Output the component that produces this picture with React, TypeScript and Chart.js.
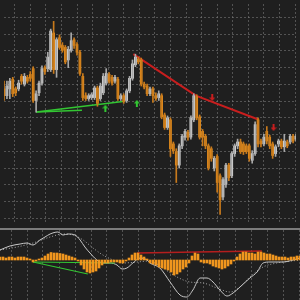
import React, { useEffect, useRef } from 'react';
import { Chart, registerables } from 'chart.js';
Chart.register(...registerables);

// ---- price candles (index 0..100) ----
const open = [140,133,140,150,140,140,153,145,152,155,161,128,136,146,162,161,160,198,160,193,185,183,170,180,191,186,178,153,133,130,131,131,141,130,136,146,155,152,148,150,130,133,128,138,151,165,171,170,145,143,135,140,133,131,133,113,100,108,83,75,61,81,90,95,90,108,132,111,96,91,81,78,58,70,50,28,41,61,50,73,81,85,83,81,81,66,73,108,86,83,96,90,83,73,83,86,80,85,85,91,88];
const close = [133,143,148,135,136,146,148,153,148,151,128,135,146,161,158,173,200,160,191,183,180,168,181,190,185,178,156,131,130,133,134,141,125,143,153,156,148,146,152,130,133,127,138,151,166,173,168,145,142,135,140,133,130,135,111,100,110,78,76,61,81,91,96,90,110,133,110,90,90,81,58,68,68,43,25,46,61,48,73,81,85,75,75,75,68,73,103,83,83,90,86,81,71,80,86,80,86,81,91,86,91];
const high = [148,148,151,152,142,149,155,156,154,158,163,138,148,164,164,178,202,210,193,196,188,185,184,198,193,188,180,156,136,135,136,143,143,146,156,161,157,154,154,152,135,135,140,153,170,176,173,172,147,145,142,142,136,138,135,115,112,110,85,78,83,93,98,97,112,135,134,113,98,93,83,80,70,72,52,48,63,63,75,83,88,88,85,83,83,76,106,110,88,93,101,92,85,82,88,88,93,87,93,93,93];
const low = [128,130,130,132,133,138,145,143,146,148,126,116,133,144,155,158,158,156,152,181,178,166,162,178,182,175,154,128,128,128,129,129,122,128,134,144,146,144,146,128,128,125,126,136,149,163,166,143,140,133,133,126,128,128,109,98,98,70,73,43,58,78,87,87,88,106,108,88,81,78,56,65,55,33,10,25,38,45,48,70,78,73,72,73,65,63,71,80,80,81,83,78,68,70,80,78,75,79,83,84,86];

// ---- price overlays (bar index, price) ----
const bearLineIdx = [44.3, 65.7, 87.3];
const bearLinePrice = [176, 133, 108];
const bullLineAIdx = [11, 40.7];
const bullLineAPrice = [116, 127];
const bullLineBIdx = [11, 26.7];
const bullLineBPrice = [116, 118];
const upArrowIdx = [34.7, 45.5];
const upArrowPrice = [120, 125];
const downArrowIdx = [71.3, 92.3];
const downArrowPrice = [131, 100];

// ---- oscillator panel ----
const osma = [3,3,2,3,3,2,3,3,3,2,1,-2,-1,1,2,4,6,7.5,7,7,6.5,6,5,4,3,2,-1,-5,-9,-12,-13,-12,-11,-8,-5,-3,-3,-2,-2,-2,-3,-3,-1,2,5,7,7,5,3,1,-3,-4,-5,-7,-8,-9,-10,-12,-15,-14,-12,-9,-7,-3,4,7,6,-2,-3,-3,-4,-6,-7,-8,-9,-8,-6,-4,-1,3,6,8,8,7,7,6,8,8,7,6,6,5,4,3,3,3,2,3,3,4,4];
const macdIdx = [0,3.3,6.7,9,11,13.3,15,16.7,19.3,21,22.7,25,26.7,28.3,30,32.3,34.3,36.7,39,40.7,42.3,44.3,46.7,49,50,53.3,56.7,60,62.3,64.3,66.7,69,71,73.3,75.7,77.7,80,83.3,85.7,87.7,90,94.3,97.7,100];
const macdVal = [10,14,16,17,15,20,23,26,28,25,26,25,20,13,7,0,-3,-3,-5,-9,-8,-3,2,0,-3,-8,-22,-35,-37,-30,-18,-18,-22,-30,-36,-33,-27,-18,-12,-3,-2,-2,0,2];
const signalIdx = [0,5.7,11,16.7,21,24.3,27.7,31,34.3,37.7,41,45.7,50,54.3,59,63.3,67.7,72.3,76.7,80,83.3,87.7,92.3,100];
const signalVal = [10,13,17,23,26,25,20,12,5,0,-3,-2,-1,-8,-17,-22,-23,-28,-32,-27,-17,-7,-3,0];
const oscGreenAIdx = [11, 29.3];
const oscGreenAVal = [-2, -14];
const oscGreenBIdx = [11, 38.3];
const oscGreenBVal = [-2, -3];
const oscRedIdx = [45.7, 65.7, 87.3];
const oscRedVal = [7, 8, 9];

const BG = '#1f1f1f';
const ORANGE = '#f0961e';
const WHITE = '#f4f4f4';
const GREEN = '#33c633';
const RED = '#c81e1e';
const GRID = 'rgba(125,125,125,0.55)';

const pts = (xs: number[], ys: number[]) => xs.map((x, i) => ({ x, y: ys[i] }));

function makeArrow(color: string, up: boolean) {
  const c = document.createElement('canvas');
  c.width = 6; c.height = 7;
  const g = c.getContext('2d')!;
  g.fillStyle = color;
  g.beginPath();
  if (up) { g.moveTo(3, 0); g.lineTo(6, 3.5); g.lineTo(0, 3.5); }
  else { g.moveTo(3, 7); g.lineTo(6, 3.5); g.lineTo(0, 3.5); }
  g.closePath(); g.fill();
  g.fillRect(2, up ? 3 : 0, 2, 4);
  return c;
}

export default function App() {
  const topRef = useRef<HTMLCanvasElement>(null);
  const botRef = useRef<HTMLCanvasElement>(null);

  useEffect(() => {
    const idx = open.map((_, i) => i);
    const bull = idx.map(i => close[i] >= open[i]);
    const xGrid = (scale: any) => {
      scale.ticks = Array.from({ length: 19 }, (_, k) => ({ value: 11 / 3 + (k * 16) / 3 }));
    };
    const xScale = {
      type: 'linear' as const, min: 0, max: 100, offset: false,
      afterBuildTicks: xGrid,
      ticks: { display: false },
      grid: { color: GRID, drawTicks: false, lineWidth: 1, offset: false },
      border: { display: false, dash: [2, 2] },
    };
    const lineDs = (data: any, color: string, width = 2, extra: any = {}) => ({
      type: 'line' as const, data, borderColor: color, borderWidth: width,
      pointRadius: 0, fill: false, tension: 0, ...extra,
    });
    const common = {
      responsive: false, animation: false as const, devicePixelRatio: 1,
      events: [] as any[],
      layout: { padding: 0 },
      plugins: { legend: { display: false }, tooltip: { enabled: false } },
    };

    const top = new Chart(topRef.current!, {
      type: 'bar',
      data: {
        datasets: [
          {
            data: idx.map(i => ({ x: i, y: [low[i], high[i]] })) as any,
            backgroundColor: bull.map(b => (b ? '#a8a8a8' : '#c87a1c')),
            barThickness: 1, grouped: false, borderWidth: 0,
          },
          {
            data: idx.map(i => ({ x: i, y: [open[i], close[i]] })) as any,
            backgroundColor: bull.map(b => (b ? WHITE : ORANGE)),
            barThickness: 2, grouped: false, borderWidth: 0,
          },
          lineDs(pts(bullLineAIdx, bullLineAPrice), GREEN, 1.5) as any,
          lineDs(pts(bullLineBIdx, bullLineBPrice), GREEN, 1.5) as any,
          lineDs(pts(bearLineIdx, bearLinePrice), RED, 2) as any,
          lineDs(pts(upArrowIdx, upArrowPrice), GREEN, 0, { showLine: false, pointRadius: 3, pointStyle: makeArrow(GREEN, true) }) as any,
          lineDs(pts(downArrowIdx, downArrowPrice), RED, 0, { showLine: false, pointRadius: 3, pointStyle: makeArrow(RED, false) }) as any,
        ],
      },
      options: {
        ...common,
        scales: {
          x: xScale as any,
          y: {
            type: 'linear', min: 0, max: 228,
            afterBuildTicks: (scale: any) => {
              scale.ticks = Array.from({ length: 13 }, (_, k) => ({ value: 6 + (k * 52) / 3 }));
            },
            ticks: { display: false },
            grid: { color: GRID, drawTicks: false },
            border: { display: false, dash: [2, 2] },
          },
        },
      } as any,
    });

    const bot = new Chart(botRef.current!, {
      type: 'bar',
      data: {
        datasets: [
          {
            data: idx.map(i => ({ x: i, y: osma[i] })) as any,
            backgroundColor: ORANGE, borderWidth: 0,
            barThickness: 2, grouped: false,
          },
          lineDs(pts(oscGreenAIdx, oscGreenAVal), GREEN, 1.2) as any,
          lineDs(pts(oscGreenBIdx, oscGreenBVal), GREEN, 1.2) as any,
          lineDs(pts(oscRedIdx, oscRedVal), '#b41e1e', 1.5) as any,
          lineDs(pts(macdIdx, macdVal), '#c8c8c8', 1, { cubicInterpolationMode: 'monotone' }) as any,
          lineDs(pts(signalIdx, signalVal), '#a8a8a8', 1, { borderDash: [1, 2], cubicInterpolationMode: 'monotone' }) as any,
        ],
      },
      options: {
        ...common,
        scales: {
          x: xScale as any,
          y: {
            type: 'linear', min: -40, max: 30,
            ticks: { display: false },
            grid: { display: false, drawTicks: false },
            border: { display: false },
          },
        },
      } as any,
    });

    return () => { top.destroy(); bot.destroy(); };
  }, []);

  return (
    <div style={{ position: 'fixed', left: 0, top: 0, width: 300, height: 300, background: BG }}>
      <canvas ref={topRef} width={300} height={228} style={{ display: 'block' }} />
      <div style={{ height: 2, background: '#7c7c7c' }} />
      <canvas ref={botRef} width={300} height={70} style={{ display: 'block' }} />
    </div>
  );
}
